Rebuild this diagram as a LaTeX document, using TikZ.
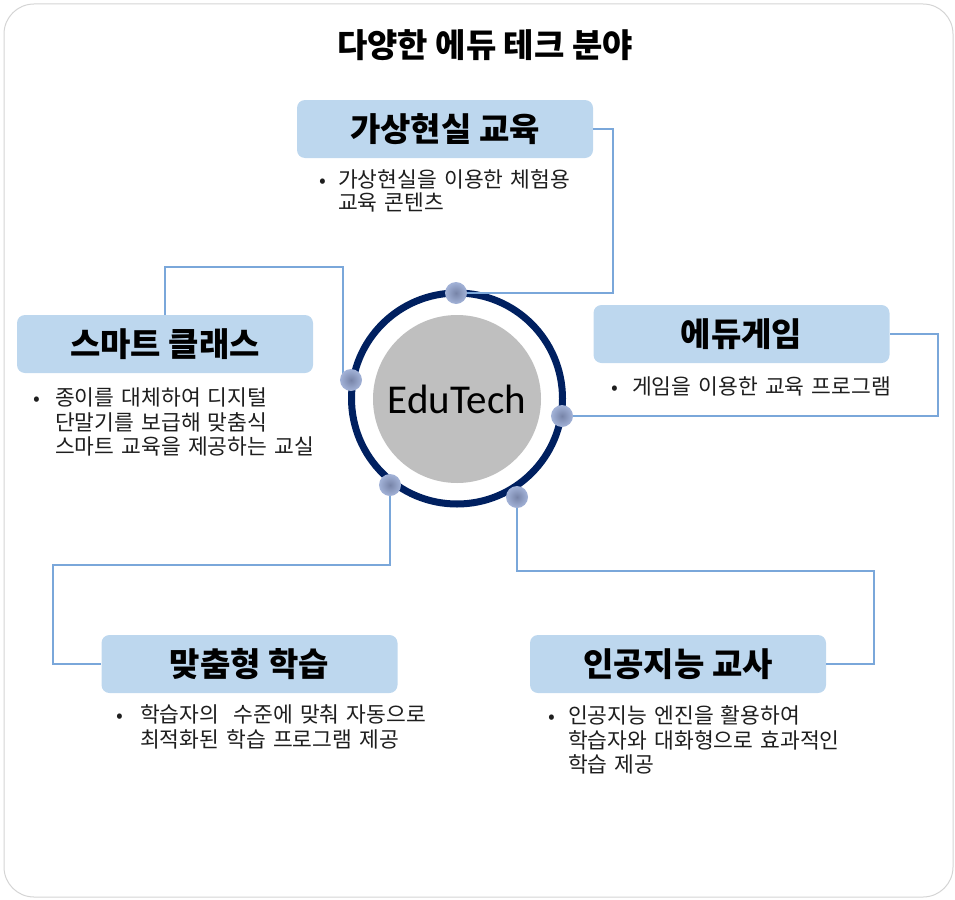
\documentclass[tikz,border=0pt]{standalone}
\usepackage{fontspec}
\setmainfont{Noto Sans CJK KR}
\newfontfamily\latinhub{Carlito}
\definecolor{framegray}{HTML}{D4D4D4}
\definecolor{linkblue}{HTML}{7AA7DA}
\definecolor{boxblue}{HTML}{BDD7EE}
\definecolor{ringnavy}{HTML}{002060}
\definecolor{hubgray}{HTML}{BFBFBF}
\definecolor{dotout}{HTML}{A3B3D8}
\definecolor{dotin}{HTML}{7784A8}
\definecolor{txt}{HTML}{1E1E1E}
\tikzset{
  catbox/.style={rounded corners=8pt, fill=boxblue, minimum width=296pt, minimum height=58pt,
    inner sep=0pt, font=\fontsize{33pt}{36pt}\selectfont\bfseries, text=black},
  link/.style={draw=linkblue, line width=1.4pt},
  ringdot/.style={circle, minimum size=22pt, inner sep=0pt, shading=radial, inner color=dotin, outer color=dotout},
  desc/.style={anchor=base west, inner sep=0pt, align=left, text width=330pt, text=txt,
    font=\fontsize{21.5pt}{24.5pt}\selectfont},
  bullet/.style={anchor=base, inner sep=0pt, text=txt, font=\fontsize{20pt}{24pt}\selectfont}
}
\begin{document}
\begin{tikzpicture}[x=1pt,y=-1pt]
\useasboundingbox (0,0) rectangle (955,899);
\draw[framegray, line width=1pt, rounded corners=30pt] (4,4) rectangle (953,897);

\node[inner sep=0pt, font=\fontsize{33pt}{36pt}\selectfont\bfseries] (title) at (485,45) {다양한 에듀 테크 분야};

% boxes
\node[catbox] (b1) at (445,129) {가상현실 교육};
\node[catbox] (b2) at (165,344) {스마트 클래스};
\node[catbox] (b3) at (741.5,334) {에듀게임};
\node[catbox] (b4) at (249.5,664) {맞춤형 학습};
\node[catbox] (b5) at (678,664) {인공지능 교사};

% hub
\node[circle, fill=hubgray, minimum size=168pt, inner sep=0pt, font=\fontsize{41pt}{44pt}\latinhub] (hub) at (457,399) {EduTech};
\node[circle, draw=ringnavy, line width=7pt, minimum size=211pt, inner sep=0pt] (ring) at (457,398.5) {};

% connector corners
\coordinate (c1a) at (613,293);
\coordinate (c2s) at (343,380);
\coordinate (c2a) at (343,267);
\coordinate (c3a) at (938,416);
\coordinate (c4a) at (390,565);
\coordinate (c4b) at (53,565);
\coordinate (c5a) at (517,571);
\coordinate (c5b) at (874,571);

\coordinate (p1) at (456,293);
\coordinate (p2) at (351,380);
\coordinate (p3) at (562,416);
\coordinate (p4) at (390,485);
\coordinate (p5) at (517,497);

\draw[link] (p1) -- (c1a) |- (b1.east);
\draw[link] (c2s) -- (c2a) -| (b2.north);
\draw[link] (p3) -- (c3a) |- (b3.east);
\draw[link] (p4) -- (c4a) -- (c4b) |- (b4.west);
\draw[link] (p5) -- (c5a) -- (c5b) |- (b5.east);

\node[ringdot] (d1) at (p1) {};
\node[ringdot] (d2) at (p2) {};
\node[ringdot] (d3) at (p3) {};
\node[ringdot] (d4) at (p4) {};
\node[ringdot] (d5) at (p5) {};

% descriptions
\node[bullet] (u1) at (323,187) {•};
\node[desc, font=\fontsize{21.5pt}{23pt}\selectfont] (t1) at (338,187) {가상현실을 이용한 체험용\\교육 콘텐츠};
\node[bullet] (u2) at (37,405.6) {•};
\node[desc] (t2) at (55,405.6) {종이를 대체하여 디지털\\단말기를 보급해 맞춤식\\스마트 교육을 제공하는 교실};
\node[bullet] (u3) at (615,394.6) {•};
\node[desc] (t3) at (632,394.6) {게임을 이용한 교육 프로그램};
\node[bullet] (u4) at (120,722.6) {•};
\node[desc] (t4) at (140,722.6) {학습자의~~수준에 맞춰 자동으로\\최적화된 학습 프로그램 제공};
\node[bullet] (u5) at (552,723.6) {•};
\node[desc] (t5) at (568,723.6) {인공지능 엔진을 활용하여\\학습자와 대화형으로 효과적인\\학습 제공};
\end{tikzpicture}
\end{document}
